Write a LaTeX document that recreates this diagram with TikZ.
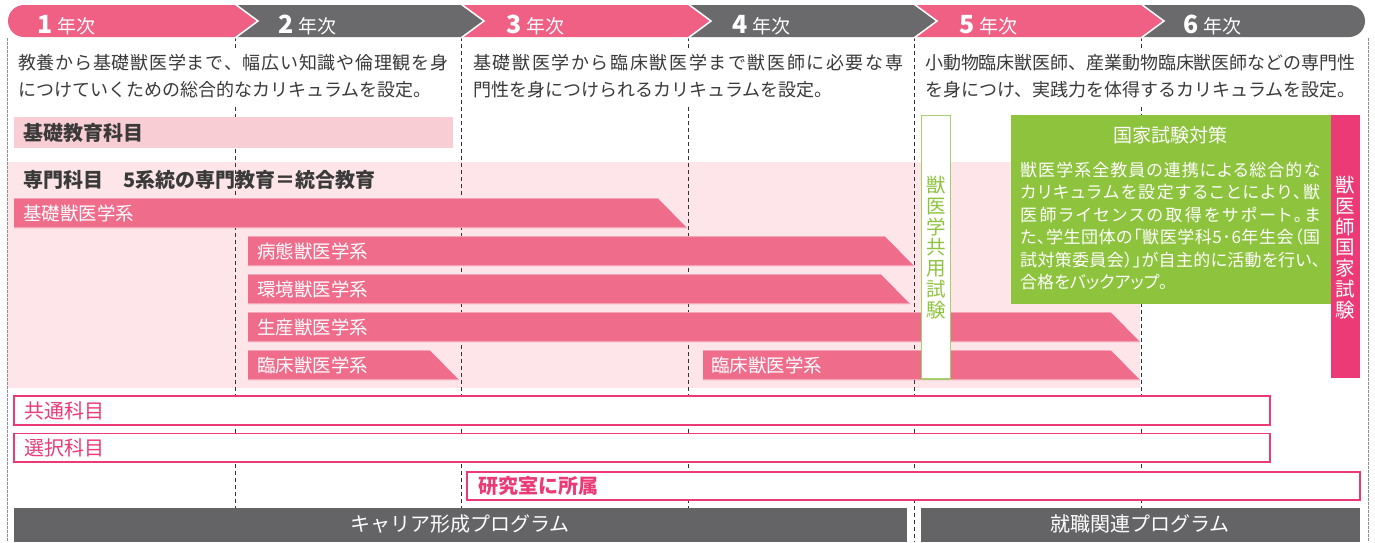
\documentclass[tikz,border=0pt]{standalone}
\usepackage{fontspec}
\setmainfont{Noto Sans CJK JP}
\newfontfamily\jpp{Noto Sans CJK JP}[RawFeature=+palt]
\definecolor{hpink}{HTML}{EF6084}
\definecolor{hgrey}{HTML}{6A6A6D}
\definecolor{barpink}{HTML}{F06C8B}
\definecolor{baredge}{HTML}{F5A3B7}
\definecolor{bgpink}{HTML}{FDE5E9}
\definecolor{kisopink}{HTML}{F8CDD4}
\definecolor{grn}{HTML}{8EC33E}
\definecolor{grnline}{HTML}{A6CF6B}
\definecolor{mag}{HTML}{EC3A76}
\definecolor{dgrey}{HTML}{646466}
\definecolor{txt}{HTML}{3A3A3A}
\def\sprdglue{\hskip0pt plus1fil minus1pt\relax}
\def\sprdaux#1{\ifx\relax#1\else#1\sprdglue\expandafter\sprdaux\fi}
\newcommand\spreadline[2]{\hbox to #1{\sprdaux#2\relax\unskip}}
\newcommand\pinkbar[3]{%
  \fill[barpink] (#1,#2) -- ({#3-29.5},#2) -- (#3,#2+30) -- (#1,#2+30) -- cycle;
  \draw[baredge, line width=.7pt] (#1,#2+0.35) -- ({#3-29.2},#2+0.35) (#1,#2+29.65) -- ({#3-0.4},#2+29.65);}
\tikzset{
  lbl/.style={inner sep=0pt, anchor=west},
  divline/.style={draw=black!80, line width=0.9pt, dash pattern=on 4pt off 3pt},
  edgeline/.style={draw=black!45, line width=1pt, dash pattern=on 2.5pt off 1.5pt},
  pbox/.style={draw=mag, line width=1.3pt, fill=white},
  desc/.style={lbl, text=txt, font=\fontsize{18}{18}\selectfont},
  barlbl/.style={lbl, text=white, font=\fontsize{18.5}{18.5}\selectfont},
  boxlbl/.style={lbl, text=mag, font=\fontsize{20}{20}\selectfont},
  grnlbl/.style={lbl, text=white, font=\fontsize{17}{17}\selectfont\jpp},
  yearlbl/.style={inner sep=0pt, anchor=base west, text=white},
  vert/.style={inner sep=0pt, align=center, font=\fontsize{19.5}{20.8}\selectfont},
}
\newcommand\yr[1]{{\fontsize{25}{25}\selectfont\bfseries #1}\hspace{5pt}{\fontsize{19}{19}\selectfont 年次}}
\begin{document}
\begin{tikzpicture}[x=1pt,y=-1pt]
\useasboundingbox (0,0) rectangle (1375,542);
\fill[white] (0,0) rectangle (1375,542);
% pink background for specialised subjects
\fill[bgpink] (8,162) rectangle (1140,388);
% dashed column lines
\foreach \xx in {235,461,688,914,1141} \draw[divline] (\xx,37) -- (\xx,542);
\draw[edgeline] (7.5,38) -- (7.5,542);
\draw[edgeline] (1368,38) -- (1368,542);
% header
\fill[hpink] (24,21) circle[radius=16pt];
\fill[hpink] (24,5) -- (235,5) -- (258,21) -- (235,37) -- (24,37) -- cycle;
\fill[hgrey] (235,5) -- (461,5) -- (484,21) -- (461,37) -- (235,37) -- (258,21) -- cycle;
\fill[hpink] (461,5) -- (688,5) -- (711,21) -- (688,37) -- (461,37) -- (484,21) -- cycle;
\fill[hgrey] (688,5) -- (914,5) -- (937,21) -- (914,37) -- (688,37) -- (711,21) -- cycle;
\fill[hpink] (914,5) -- (1141,5) -- (1164,21) -- (1141,37) -- (914,37) -- (937,21) -- cycle;
\fill[hgrey] (1349,21) circle[radius=16pt];
\fill[hgrey] (1141,5) -- (1349,5) -- (1349,37) -- (1141,37) -- (1164,21) -- cycle;
\foreach \xx in {235,461,688,914,1141} \draw[white, line width=1.5pt] (\xx,4) -- (\xx+23,21) -- (\xx,38);
\node[yearlbl] (y1) at (37,33) {\yr{1}};
\node[yearlbl] (y2) at (278,33) {\yr{2}};
\node[yearlbl] (y3) at (506,33) {\yr{3}};
\node[yearlbl] (y4) at (732,33) {\yr{4}};
\node[yearlbl] (y5) at (959,33) {\yr{5}};
\node[yearlbl] (y6) at (1183,33) {\yr{6}};
% descriptions
\fill[white] (13,49) rectangle (452,104);
\fill[white] (466,49) rectangle (909,104);
\fill[white] (919,49) rectangle (1362,104);
\node[desc] (d1a) at (18,63) {\spreadline{430pt}{教養から基礎獣医学まで、幅広い知識や倫理観を身}};
\node[desc] (d1b) at (18,89.5) {につけていくための総合的なカリキュラムを設定。};
\node[desc] (d2a) at (473,63) {\spreadline{430pt}{基礎獣医学から臨床獣医学まで獣医師に必要な専}};
\node[desc] (d2b) at (473,89.5) {門性を身につけられるカリキュラムを設定。};
\node[desc] (d3a) at (925,63) {\spreadline{430pt}{小動物臨床獣医師、産業動物臨床獣医師などの専門性}};
\node[desc] (d3b) at (925,89.5) {を身につけ、実践力を体得するカリキュラムを設定。};
% basic education
\fill[kisopink] (14,117) rectangle (453,148);
\node[lbl, text=txt, font=\fontsize{20}{20}\selectfont\bfseries] (kiso) at (23,132.5) {基礎教育科目};
\node[lbl, text=txt, font=\fontsize{20}{20}\selectfont\bfseries] (senmon) at (23,180) {専門科目　5系統の専門教育＝統合教育};
% specialised bars
\pinkbar{14}{198}{687}
\pinkbar{248}{236}{914}
\pinkbar{248}{274}{910}
\pinkbar{248}{312}{1140}
\pinkbar{248}{350}{459}
\pinkbar{703}{350}{1140}
\node[barlbl] (b1) at (23,213) {基礎獣医学系};
\node[barlbl] (b2) at (257,251) {病態獣医学系};
\node[barlbl] (b3) at (257,289) {環境獣医学系};
\node[barlbl] (b4) at (257,327) {生産獣医学系};
\node[barlbl] (b5) at (257,365) {臨床獣医学系};
\node[barlbl] (b6) at (711,365) {臨床獣医学系};
% common exam box
\draw[draw=grnline, line width=1.5pt, fill=white] (921.5,115.5) rectangle (950.5,379);
\node[vert, text=grn] (kyoyo) at (936,247.5) {獣\\医\\学\\共\\用\\試\\験};
% national exam
\fill[grn] (1011,115) rectangle (1331,304);
\node[inner sep=0pt, text=white, font=\fontsize{19}{19}\selectfont] (taisaku) at (1170,135) {国家試験対策};
\node[grnlbl] (g1) at (1020,170) {\spreadline{300pt}{獣医学系全教員の連携による総合的な}};
\node[grnlbl] (g2) at (1020,192.4) {\spreadline{300pt}{カリキュラムを設定することにより、獣}};
\node[grnlbl] (g3) at (1020,214.8) {\spreadline{300pt}{医師ライセンスの取得をサポート。ま}};
\node[grnlbl] (g4) at (1020,237.2) {\spreadline{300pt}{た、学生団体の「獣医学科5･6年生会（国}};
\node[grnlbl] (g5) at (1020,259.6) {\spreadline{300pt}{試対策委員会）」が自主的に活動を行い、}};
\node[grnlbl] (g6) at (1020,282) {合格をバックアップ。};
\fill[mag] (1331,115) rectangle (1360,378);
\node[vert, text=white] (kokka) at (1345.5,247.5) {獣\\医\\師\\国\\家\\試\\験};
% outlined boxes
\draw[pbox] (14,396) rectangle (1270,425);
\node[boxlbl] (kyotsu) at (24,410.5) {共通科目};
\draw[pbox] (14,433.5) rectangle (1270,462);
\node[boxlbl] (sentaku) at (24,447.5) {選択科目};
\draw[pbox, line width=2pt] (467,471.5) rectangle (1360,499.5);
\node[boxlbl, font=\fontsize{20}{20}\selectfont\bfseries] (kenkyu) at (478,485.5) {研究室に所属};
% bottom programs
\fill[dgrey] (14,508) rectangle (907,542);
\node[inner sep=0pt, text=white, font=\fontsize{20}{20}\selectfont] (career) at (460,524) {キャリア形成プログラム};
\fill[dgrey] (921,508) rectangle (1360,542);
\node[inner sep=0pt, text=white, font=\fontsize{20}{20}\selectfont] (shushoku) at (1140,524) {就職関連プログラム};
\end{tikzpicture}
\end{document}
